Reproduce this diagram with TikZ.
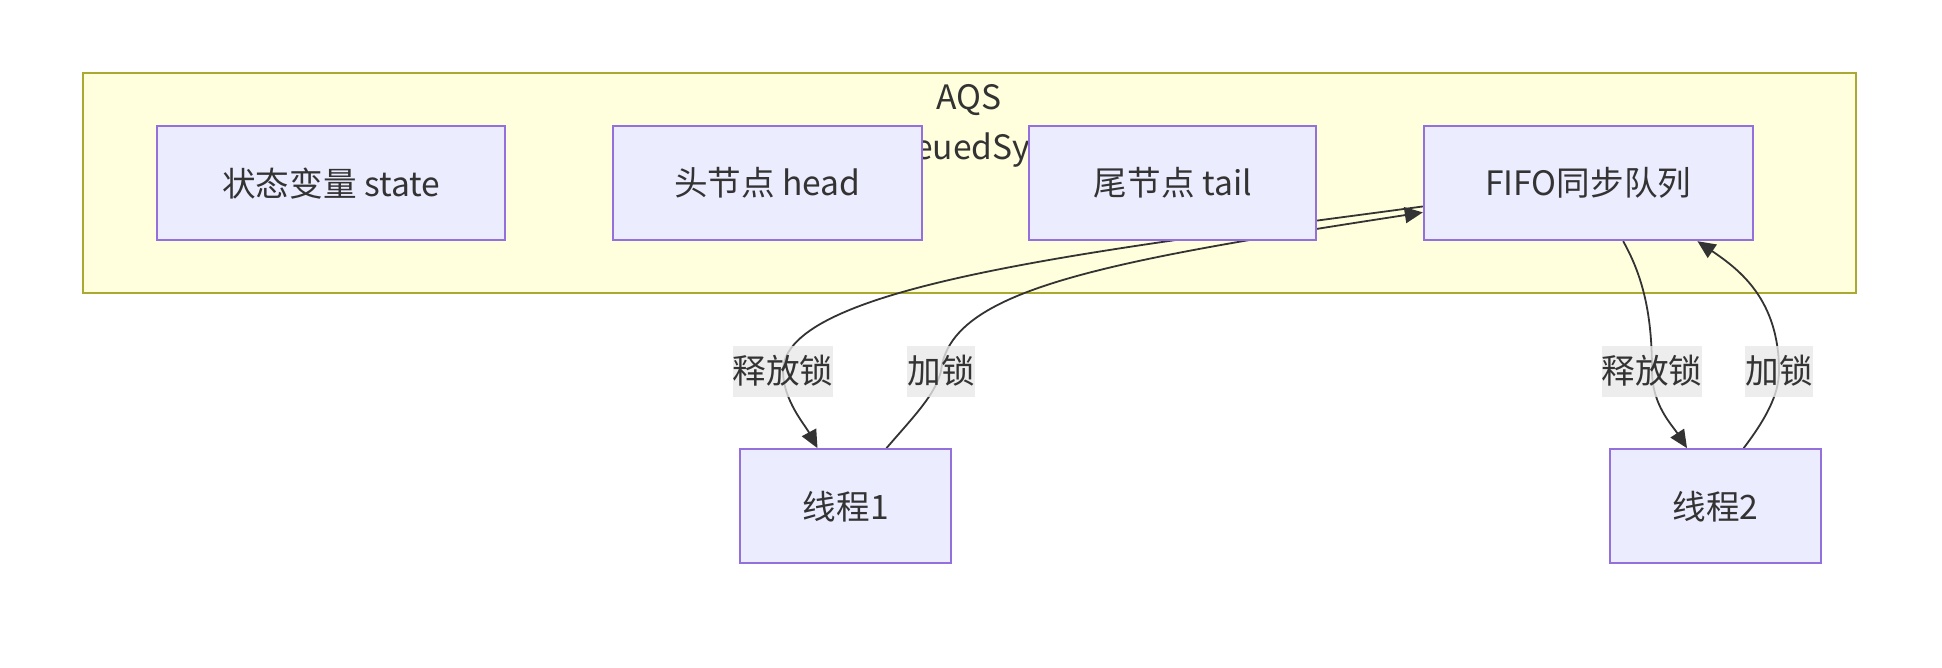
\documentclass[tikz,border=0pt]{standalone}
\usepackage{fontspec}
\setmainfont{Noto Sans CJK SC}
\usetikzlibrary{positioning, arrows.meta}
\definecolor{boxfill}{HTML}{ECECFF}
\definecolor{boxline}{HTML}{9370DB}
\definecolor{aqsfill}{HTML}{FFFFDE}
\definecolor{aqsline}{HTML}{AAAA33}
\definecolor{ink}{HTML}{333333}
\definecolor{lblfill}{HTML}{E8E8E8}
\pgfdeclarelayer{bg}
\pgfdeclarelayer{edges}
\pgfsetlayers{bg,edges,main}

\begin{document}
\begin{tikzpicture}[x=1pt, y=-1pt, font=\fontsize{33.6}{50}\selectfont, text=ink,
    main/.style = {draw=boxline, fill=boxfill, line width=2pt, minimum height=114pt, inner xsep=10pt},
    lbl/.style = {fill=lblfill, fill opacity=0.8, text opacity=1, inner sep=0pt, minimum height=51pt},
    link/.style = {draw=ink, line width=1.8pt},
    tip/.style = {-{Triangle[length=18pt, width=16pt]}},
    node distance = 105.5pt]
    \useasboundingbox (0,0) rectangle (1942,668);
    \node[main, minimum width=348pt](state) at (331.3,183.2) {状态变量 state};
    \node[main, minimum width=309pt](head) [right=of state] {头节点 head};
    \node[main, minimum width=287pt](tail) [right=of head] {尾节点 tail};
    \node[main, minimum width=329pt](fifo) [right=of tail] {FIFO同步队列};
    \node[main, minimum width=211pt](t1) [below=207pt of tail, xshift=-327pt] {线程1};
    \node[main, minimum width=211pt](t2) [below=207pt of fifo, xshift=127pt] {线程2};
    \begin{pgfonlayer}{bg}
    \draw[draw=aqsline, fill=aqsfill, line width=2pt] (82.5,73) rectangle (1855.5,292.5);
    \node[align=center, anchor=base](title) at (969,160) {AQS\\AbstractQueuedSynchronizer};
    \end{pgfonlayer}
    \begin{pgfonlayer}{edges}
    \draw[link, tip] (fifo.188) .. controls (1100,250) and (783,285) .. (783,371) node[lbl](rel1) {释放锁} .. controls (783,400) and (805,425) .. (t1.116);
    \draw[link, tip] (t1.55) .. controls (915,415) and (935,395) .. (941,371) node[lbl](acq1) {加锁} .. controls (950,290) and (1100,262) .. (fifo.190);
    \draw[link, tip] (fifo.301) .. controls (1645,280) and (1652,320) .. (1652,371) node[lbl](rel2) {释放锁} .. controls (1652,405) and (1672,425) .. (t2.116);
    \draw[link, tip] (t2.64) .. controls (1765,420) and (1779,395) .. (1779,371) node[lbl](acq2) {加锁} .. controls (1779,300) and (1740,270) .. (fifo.332);
    \end{pgfonlayer}
\end{tikzpicture}
\end{document}
